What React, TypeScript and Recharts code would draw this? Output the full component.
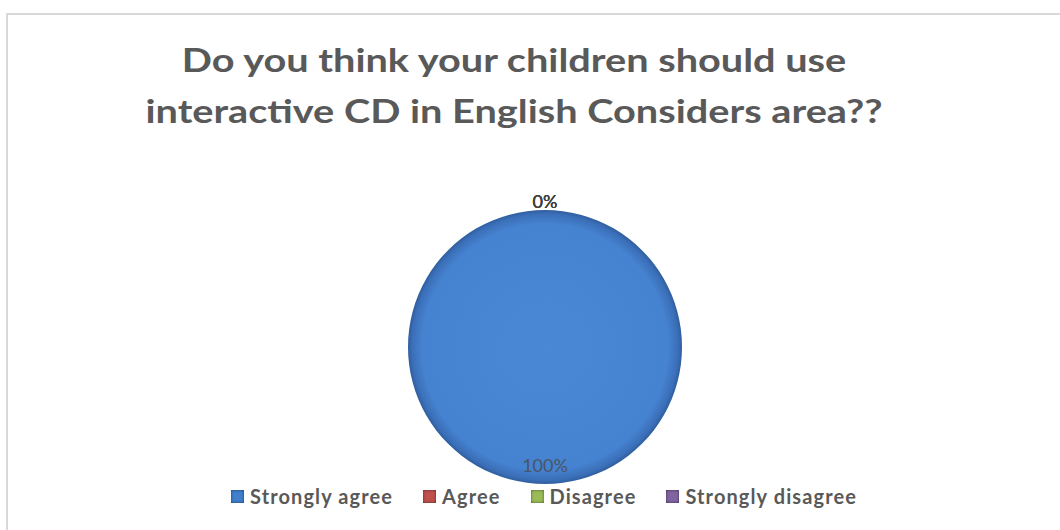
import { PieChart, Pie, Cell } from 'recharts';

const categories = ['Strongly agree', 'Agree', 'Disagree', 'Strongly disagree'];
const values = [100, 0, 0, 0];
const colors = ['#3f7fcc', '#c0504d', '#9bbb59', '#8064a2'];
const titleLines = ['Do you think your children should use', 'interactive CD in English Considers area??'];

const data = categories.map((name, i) => ({ name, value: values[i] }));

const RAD = Math.PI / 180;

function renderLabel({ cx, cy, midAngle, outerRadius, value }: any) {
  const r = value === 0 ? outerRadius + 9 : outerRadius * 0.86;
  const x = cx + r * Math.cos(-midAngle * RAD);
  const y = cy + r * Math.sin(-midAngle * RAD);
  return (
    <text
      x={x}
      y={y}
      textAnchor="middle"
      dominantBaseline="central"
      fill={value === 0 ? '#404040' : '#4a5566'}
      fontSize={18}
      fontFamily="Lato, sans-serif"
    >
      {`${value}%`}
    </text>
  );
}

function LegendRow() {
  return (
    <div
      style={{
        position: 'absolute',
        top: 484,
        left: 0,
        width: 1088,
        display: 'flex',
        justifyContent: 'center',
        gap: 30,
        fontFamily: 'Lato, sans-serif',
        fontWeight: 700,
        fontSize: 20,
        letterSpacing: 1.1,
        color: '#595959',
      }}
    >
      {categories.map((c, i) => (
        <div key={c} style={{ display: 'flex', alignItems: 'center' }}>
          <span
            style={{
              width: 13,
              height: 13,
              background: colors[i],
              marginRight: 6,
              boxShadow: 'inset 0 0 3px rgba(0,0,0,0.55)',
            }}
          />
          {c}
        </div>
      ))}
    </div>
  );
}

export default function App() {
  return (
    <div style={{ position: 'fixed', left: 0, top: 0, width: 1060, height: 530, background: '#fff', overflow: 'hidden' }}>
      <div
        style={{
          position: 'absolute',
          left: 6,
          top: 13,
          width: 1100,
          height: 600,
          borderLeft: '2px solid #d9d9d9',
          borderTop: '2px solid #d9d9d9',
        }}
      />
      <div
        style={{
          position: 'absolute',
          top: 34,
          left: 0,
          width: 1028,
          textAlign: 'center',
          fontFamily: 'Lato, sans-serif',
          fontWeight: 700,
          fontSize: 32,
          lineHeight: '51px',
          color: '#595959',
          transform: 'scaleX(1.24)',
          transformOrigin: '514px 0',
        }}
      >
        {titleLines.map((t) => (
          <div key={t}>{t}</div>
        ))}
      </div>
      <div style={{ position: 'absolute', left: 0, top: 0 }}>
        <PieChart width={1060} height={530}>
          <defs>
            <radialGradient id="blueGrad" cx="50%" cy="50%" r="50%">
              <stop offset="0%" stopColor="#4a88d6" />
              <stop offset="90%" stopColor="#4582d0" />
              <stop offset="97%" stopColor="#3b6fb8" />
              <stop offset="100%" stopColor="#2f5e9e" />
            </radialGradient>
          </defs>
          <Pie
            data={data}
            dataKey="value"
            nameKey="name"
            cx={540}
            cy={342}
            outerRadius={137}
            startAngle={90}
            endAngle={-270}
            stroke="none"
            label={renderLabel}
            labelLine={false}
            isAnimationActive={false}
          >
            {data.map((d, i) => (
              <Cell key={d.name} fill={i === 0 ? 'url(#blueGrad)' : colors[i]} />
            ))}
          </Pie>
        </PieChart>
      </div>
      <LegendRow />
    </div>
  );
}
